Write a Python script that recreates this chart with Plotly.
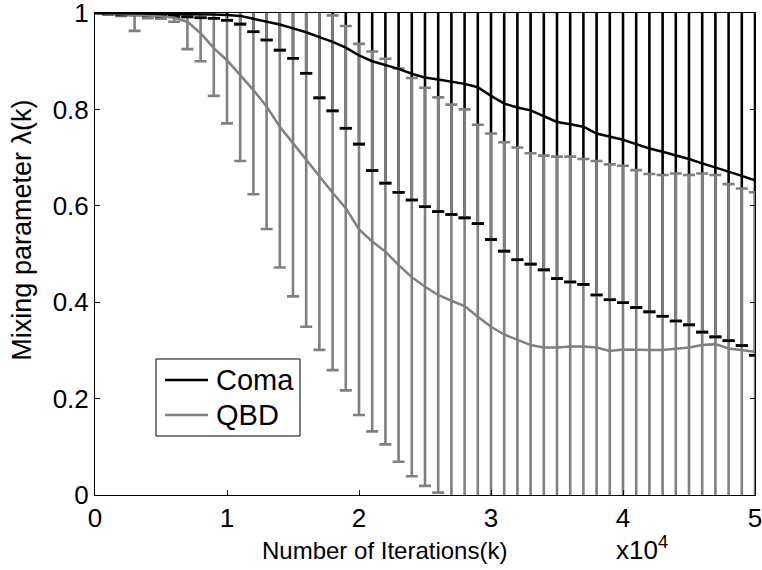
import plotly.graph_objects as go

# Iteration index (sampled every 1000 iterations)
iterations = [i * 1000 for i in range(51)]

# Mean mixing parameter and its standard deviation for each method
coma_mean = [1.000, 1.000, 0.999, 0.999, 0.999, 0.998, 0.998, 0.998, 0.997, 0.997,
             0.996, 0.994, 0.988, 0.982, 0.976, 0.968, 0.960, 0.950, 0.940, 0.928,
             0.912, 0.900, 0.892, 0.884, 0.874, 0.866, 0.862, 0.858, 0.853, 0.846,
             0.828, 0.812, 0.804, 0.798, 0.786, 0.774, 0.769, 0.764, 0.750, 0.743,
             0.737, 0.728, 0.719, 0.712, 0.705, 0.697, 0.688, 0.680, 0.671, 0.662,
             0.653]
coma_std = [0.000, 0.002, 0.003, 0.003, 0.004, 0.005, 0.005, 0.006, 0.007, 0.008,
            0.011, 0.017, 0.027, 0.038, 0.053, 0.062, 0.085, 0.126, 0.143, 0.167,
            0.184, 0.227, 0.245, 0.256, 0.262, 0.268, 0.274, 0.276, 0.278, 0.283,
            0.298, 0.306, 0.316, 0.319, 0.319, 0.325, 0.327, 0.327, 0.335, 0.338,
            0.338, 0.339, 0.339, 0.341, 0.344, 0.344, 0.350, 0.352, 0.351, 0.352,
            0.363]
qbd_mean = [1.000, 0.999, 0.998, 0.996, 0.995, 0.993, 0.990, 0.982, 0.958, 0.927,
            0.902, 0.871, 0.840, 0.806, 0.764, 0.730, 0.695, 0.660, 0.627, 0.595,
            0.551, 0.526, 0.505, 0.477, 0.452, 0.432, 0.415, 0.403, 0.392, 0.370,
            0.349, 0.333, 0.322, 0.311, 0.306, 0.306, 0.308, 0.308, 0.306, 0.299,
            0.302, 0.301, 0.301, 0.301, 0.303, 0.306, 0.311, 0.313, 0.304, 0.301,
            0.297]
qbd_std = [0.000, 0.002, 0.004, 0.033, 0.006, 0.005, 0.008, 0.057, 0.058, 0.099,
           0.131, 0.178, 0.216, 0.254, 0.292, 0.318, 0.346, 0.359, 0.368, 0.378,
           0.385, 0.394, 0.400, 0.408, 0.413, 0.413, 0.410, 0.407, 0.408, 0.398,
           0.401, 0.399, 0.399, 0.398, 0.398, 0.396, 0.394, 0.389, 0.387, 0.387,
           0.381, 0.373, 0.365, 0.363, 0.364, 0.358, 0.356, 0.351, 0.341, 0.335,
           0.331]

series_names = ["Coma", "QBD"]

# Axis ticks
x_tickvals = [0, 10000, 20000, 30000, 40000, 50000]
x_ticktext = ["0", "1", "2", "3", "4", "5"]
y_tickvals = [0, 0.2, 0.4, 0.6, 0.8, 1.0]
y_ticktext = ["0", "0.2", "0.4", "0.6", "0.8", "1"]

BLACK = "#000000"
GRAY = "#808080"
FONT = "Arial, Liberation Sans, Helvetica, sans-serif"

fig = go.Figure()

# Error bars (drawn first so the mean curves sit on top)
fig.add_trace(go.Scatter(
    x=iterations, y=coma_mean, mode="markers",
    marker=dict(size=1, color="rgba(0,0,0,0)"),
    error_y=dict(type="data", array=coma_std, symmetric=True,
                 color=BLACK, thickness=2.6, width=6),
    showlegend=False, hoverinfo="skip"))
fig.add_trace(go.Scatter(
    x=iterations, y=qbd_mean, mode="markers",
    marker=dict(size=1, color="rgba(0,0,0,0)"),
    error_y=dict(type="data", array=qbd_std, symmetric=True,
                 color=GRAY, thickness=2.6, width=6),
    showlegend=False, hoverinfo="skip"))

# Lower caps of the Coma bars stay visible above the gray bars
coma_lower = [m - s for m, s in zip(coma_mean, coma_std)]
fig.add_trace(go.Scatter(
    x=iterations[1:], y=coma_lower[1:], mode="markers",
    marker=dict(symbol="line-ew", size=8.5,
                line=dict(color=BLACK, width=2.6)),
    showlegend=False, hoverinfo="skip"))

# Mean curves
fig.add_trace(go.Scatter(
    x=iterations, y=qbd_mean, mode="lines", name=series_names[1],
    line=dict(color=GRAY, width=2.5), showlegend=False))
fig.add_trace(go.Scatter(
    x=iterations, y=coma_mean, mode="lines", name=series_names[0],
    line=dict(color=BLACK, width=2.5), showlegend=False))

axis_common = dict(
    showline=True, linecolor=BLACK, linewidth=1, mirror="ticks",
    ticks="inside", ticklen=5, tickwidth=1, tickcolor=BLACK,
    showgrid=False, zeroline=False, ticklabeloverflow="allow",
    automargin=False,
    tickfont=dict(family=FONT, size=26, color=BLACK),
)

# Boxed legend in the lower-left corner of the axes (paper coordinates)
box_x0, box_x1, box_y0, box_y1 = 0.0924, 0.3106, 0.1224, 0.2822
entry_y = [0.2386, 0.166]
sample_x0, sample_x1, text_x = 0.1061, 0.1712, 0.1803
legend_shapes = [dict(type="rect", xref="paper", yref="paper",
                      x0=box_x0, x1=box_x1, y0=box_y0, y1=box_y1,
                      line=dict(color=BLACK, width=1), fillcolor="white",
                      layer="above")]
legend_texts = []
for name, color, ey in zip(series_names, [BLACK, GRAY], entry_y):
    legend_shapes.append(dict(type="line", xref="paper", yref="paper",
                              x0=sample_x0, x1=sample_x1, y0=ey, y1=ey,
                              line=dict(color=color, width=2.5), layer="above"))
    legend_texts.append(dict(text=name, x=text_x, y=ey, xref="paper", yref="paper",
                             showarrow=False, xanchor="left", yanchor="middle",
                             font=dict(family=FONT, size=29, color=BLACK)))

fig.update_layout(
    width=762, height=570, autosize=False,
    margin=dict(l=95, r=7, t=13, b=75, autoexpand=False),
    paper_bgcolor="white", plot_bgcolor="white",
    font=dict(family=FONT, size=24, color=BLACK),
    showlegend=False,
    xaxis=dict(range=[0, 50000], tickvals=x_tickvals, ticktext=x_ticktext,
               **axis_common),
    yaxis=dict(range=[0, 1], tickvals=y_tickvals, ticktext=y_ticktext,
               **axis_common),
    shapes=legend_shapes,
    annotations=[
        dict(text="Number of Iterations(k)", x=0.438, y=-0.116,
             xref="paper", yref="paper", showarrow=False,
             xanchor="center", yanchor="middle",
             font=dict(family=FONT, size=24, color=BLACK)),
        dict(text="x10<sup>4</sup>", x=0.829, y=-0.11,
             xref="paper", yref="paper", showarrow=False,
             xanchor="center", yanchor="middle",
             font=dict(family=FONT, size=26, color=BLACK)),
        dict(text="Mixing parameter \u03bb(k)", x=-0.111, y=0.55,
             xref="paper", yref="paper", showarrow=False, textangle=-90,
             xanchor="center", yanchor="middle",
             font=dict(family=FONT, size=27, color=BLACK)),
    ] + legend_texts,
)

fig.write_html("out.html")
